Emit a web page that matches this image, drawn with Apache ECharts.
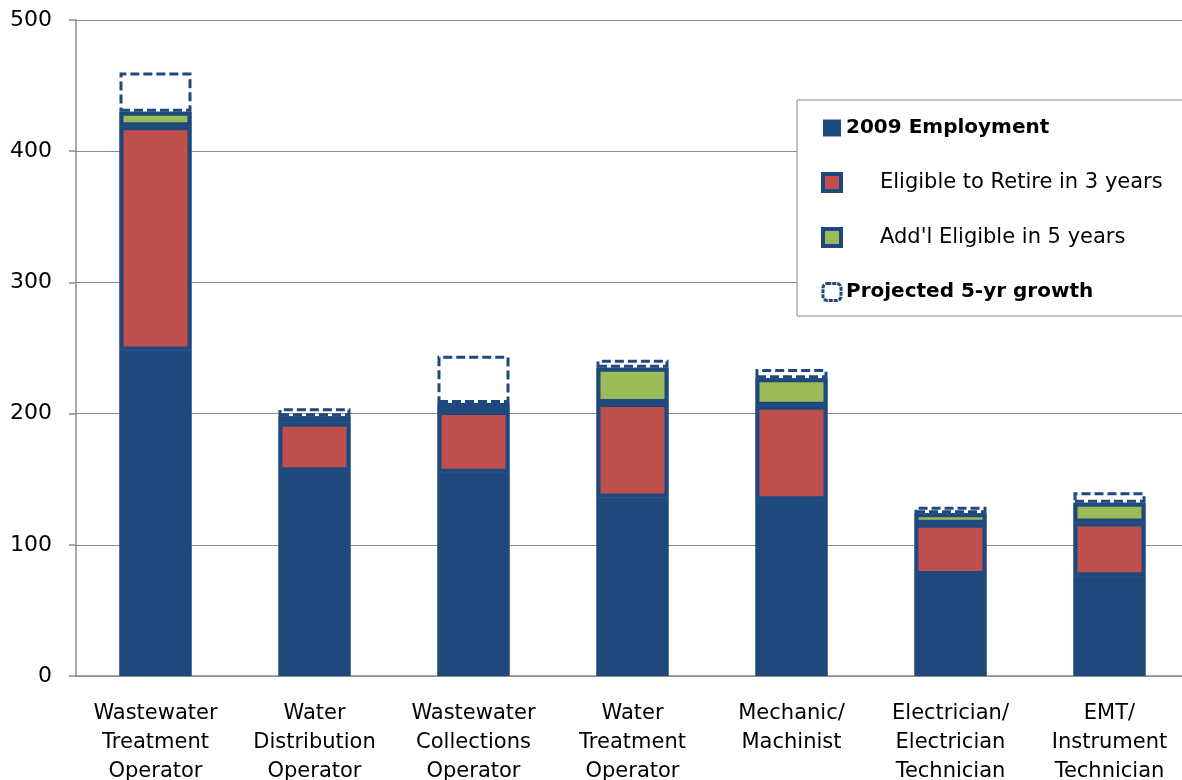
<!DOCTYPE html>
<html>
<head>
<meta charset="utf-8">
<script src="https://cdn.jsdelivr.net/npm/echarts@6/dist/echarts.min.js"></script>
<style>
html,body{margin:0;padding:0;background:#fff;}
#c{width:1182px;height:780px;}
</style>
</head>
<body>
<div id="c"></div>
<script>
// Data
var categories = ['Wastewater\nTreatment\nOperator', 'Water\nDistribution\nOperator', 'Wastewater\nCollections\nOperator', 'Water\nTreatment\nOperator', 'Mechanic/\nMachinist', 'Electrician/\nElectrician\nTechnician', 'EMT/\nInstrument\nTechnician'];
var employmentBase = [248, 156, 155, 136, 134, 77, 76];
var retire3 = [171, 37, 47, 72, 72, 39, 41];
var addl5 = [11, 5, 6, 27, 21, 8, 15];
var growth5 = [30, 6, 36, 6, 7, 5, 8];
var yTicks = [0, 100, 200, 300, 400, 500];

var BLUE = '#1F497D', RED = '#C0504D', GREEN = '#9BBB59';
var FONT = '"DejaVu Sans", sans-serif';

var chart = echarts.init(document.getElementById('c'));
var barW = 72;
function under(d) {
  return {type: 'bar', stack: 'bg', barWidth: barW, barGap: '-100%', data: d, silent: true, z: 1,
    itemStyle: {color: BLUE}};
}
chart.setOption({
  animation: false,
  backgroundColor: '#fff',
  grid: {left: 76, right: -7, top: 20, bottom: 104, containLabel: false, outerBoundsMode: 'none'},
  graphic: [{
    type: 'rect', z: 5,
    shape: {x: 797, y: 100, width: 420, height: 216},
    style: {fill: '#fff', stroke: '#8c8c8c', lineWidth: 1}
  }],
  legend: {
    z: 10,
    orient: 'vertical',
    left: 821, top: 118,
    padding: 0,
    itemWidth: 18, itemHeight: 17,
    itemGap: 34,
    selectedMode: false,
    data: [
      {name: '2009 Employment', icon: 'rect', itemStyle: {color: BLUE, borderWidth: 0}},
      {name: 'Eligible to Retire in 3 years', icon: 'rect', itemStyle: {color: RED, borderColor: BLUE, borderWidth: 4}},
      {name: "Add'l Eligible in 5 years", icon: 'rect', itemStyle: {color: GREEN, borderColor: BLUE, borderWidth: 4}},
      {name: 'Projected 5-yr growth', icon: 'roundRect', itemStyle: {color: '#fff', borderColor: BLUE, borderWidth: 3, borderType: [4, 1]}}
    ],
    formatter: function (n) {
      if (n === '2009 Employment' || n === 'Projected 5-yr growth') return '{b|' + n + '}';
      return '{n|' + n + '}';
    },
    textStyle: {
      fontFamily: FONT, fontSize: 21, color: '#000', lineHeight: 20,
      rich: {
        b: {fontFamily: FONT, fontSize: 20, fontWeight: 'bold', color: '#000', lineHeight: 20},
        n: {fontFamily: FONT, fontSize: 21, color: '#000', lineHeight: 20, padding: [0, 0, 0, 34]}
      }
    }
  },
  xAxis: {
    type: 'category',
    data: categories,
    axisLine: {show: true, lineStyle: {color: '#8c8c8c', width: 1.5}},
    axisTick: {show: false},
    axisLabel: {fontFamily: FONT, fontSize: 21, color: '#000', lineHeight: 29, margin: 23, interval: 0}
  },
  yAxis: {
    type: 'value',
    min: 0, max: 500, interval: 100,
    axisLine: {show: true, lineStyle: {color: '#8c8c8c', width: 1.5}},
    axisTick: {show: true, inside: false, length: 7, lineStyle: {color: '#8c8c8c', width: 1.5}},
    splitLine: {show: true, lineStyle: {color: '#8c8c8c', width: 1.2}},
    axisLabel: {fontFamily: FONT, fontSize: 22, color: '#000', margin: 24,
      formatter: function (v) { return yTicks.indexOf(v) >= 0 ? String(v) : ''; }}
  },
  series: [
    under(employmentBase), under(retire3), under(addl5),
    {name: '2009 Employment', type: 'bar', stack: 's', barWidth: barW, barGap: '-100%', data: employmentBase, z: 2,
      itemStyle: {color: BLUE, borderColor: BLUE, borderWidth: 4}},
    {name: 'Eligible to Retire in 3 years', type: 'bar', stack: 's', barWidth: barW, barGap: '-100%', data: retire3, z: 2,
      itemStyle: {color: RED, borderColor: BLUE, borderWidth: 4}},
    {name: "Add'l Eligible in 5 years", type: 'bar', stack: 's', barWidth: barW, barGap: '-100%', data: addl5, z: 2,
      itemStyle: {color: GREEN, borderColor: BLUE, borderWidth: 4}},
    {name: 'Projected 5-yr growth', type: 'bar', stack: 's', barWidth: barW, barGap: '-100%', data: growth5, z: 2,
      itemStyle: {color: 'rgba(255,255,255,0)', borderColor: BLUE, borderWidth: 3, borderType: [9, 4]}}
  ]
});
</script>
</body>
</html>
